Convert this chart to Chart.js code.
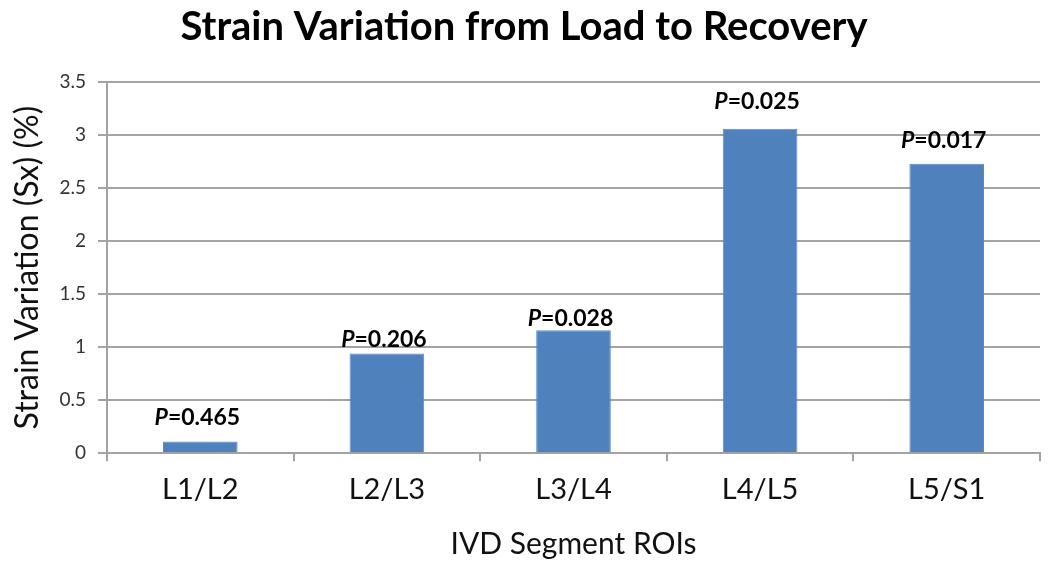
<!DOCTYPE html>
<html>
<head>
<meta charset="utf-8">
<script src="https://cdn.jsdelivr.net/npm/chart.js@4.4.0/dist/chart.umd.min.js"></script>
<style>
  html, body { margin: 0; padding: 0; background: #fff; }
  #wrap { width: 1050px; height: 568px; }
</style>
</head>
<body>
<div id="wrap"><canvas id="strainChart"></canvas></div>
<script>
// values
const segments = ['L1/L2', 'L2/L3', 'L3/L4', 'L4/L5', 'L5/S1'];
const strainVariation = [0.11, 0.94, 1.16, 3.06, 2.73];
const pValues = ['0.465', '0.206', '0.028', '0.025', '0.017'];

const FONT = 'Lato, "Open Sans", sans-serif';
const GRID = '#a3a3a3';

// draws "P=0.xxx" above each bar, P in italic
// gap above each bar differs a bit in the original, so nudge per label
const pLabels = {
    id: 'pLabels',
    afterDatasetsDraw(chart, args, opts) {
        const ctx = chart.ctx;
        const meta = chart.getDatasetMeta(0);
        const size = opts.size;
        ctx.save();
        ctx.fillStyle = '#000';
        ctx.textBaseline = 'alphabetic';
        meta.data.forEach((bar, i) => {
            const pTxt = 'P';
            const rest = '=' + pValues[i];
            ctx.font = `italic bold ${size}px ${FONT}`;
            const w1 = ctx.measureText(pTxt).width;
            ctx.font = `bold ${size}px ${FONT}`;
            const w2 = ctx.measureText(rest).width;
            const x0 = bar.x - 3 - (w1 + w2) / 2;
            const y = bar.y - opts.gaps[i];
            ctx.font = `italic bold ${size}px ${FONT}`;
            ctx.fillText(pTxt, x0, y);
            ctx.font = `bold ${size}px ${FONT}`;
            ctx.fillText(rest, x0 + w1, y);
        });
        ctx.restore();
    }
};

new Chart(document.getElementById('strainChart'), {
    type: 'bar',
    data: {
        labels: segments,
        datasets: [{
            data: strainVariation,
            backgroundColor: '#4F81BD',
            borderColor: '#5a8ac6',
            borderWidth: 1,
            barPercentage: 0.4,
            categoryPercentage: 1.0
        }]
    },
    options: {
        responsive: true,
        maintainAspectRatio: false,
        animation: false,
        layout: { padding: { left: 8, right: 10, top: 0, bottom: 6 } },
        plugins: {
            legend: { display: false },
            tooltip: { enabled: false },
            title: {
                display: true,
                text: 'Strain Variation from Load to Recovery',
                color: '#000',
                font: { family: FONT, size: 40, weight: 'bold' },
                padding: { top: 3, bottom: 31 }
            },
            pLabels: { size: 23, gaps: [17, 7, 4, 20, 16] }
        },
        scales: {
            x: {
                grid: {
                    drawOnChartArea: false,
                    drawTicks: true,
                    tickLength: 8,
                    color: GRID,
                    lineWidth: 2
                },
                border: { color: GRID, width: 2 },
                ticks: {
                    color: '#111',
                    font: { family: FONT, size: 29 },
                    padding: 11
                },
                title: {
                    display: true,
                    text: 'IVD Segment ROIs',
                    color: '#111',
                    font: { family: FONT, size: 30 },
                    padding: { top: 8, bottom: 0 }
                }
            },
            y: {
                min: 0,
                max: 3.5,
                afterFit: (scale) => { scale.width = 99; },
                ticks: {
                    stepSize: 0.5,
                    color: '#333',
                    font: { family: FONT, size: 19 },
                    padding: 12,
                    callback: (v) => `${v}`
                },
                grid: {
                    color: GRID,
                    lineWidth: 2,
                    tickLength: 9
                },
                border: { color: GRID, width: 2 },
                title: {
                    display: true,
                    text: 'Strain Variation (Sx) (%)',
                    color: '#111',
                    font: { family: FONT, size: 32 },
                    padding: { top: 0, bottom: 0 }
                }
            }
        }
    },
    plugins: [pLabels]
});
</script>
</body>
</html>
